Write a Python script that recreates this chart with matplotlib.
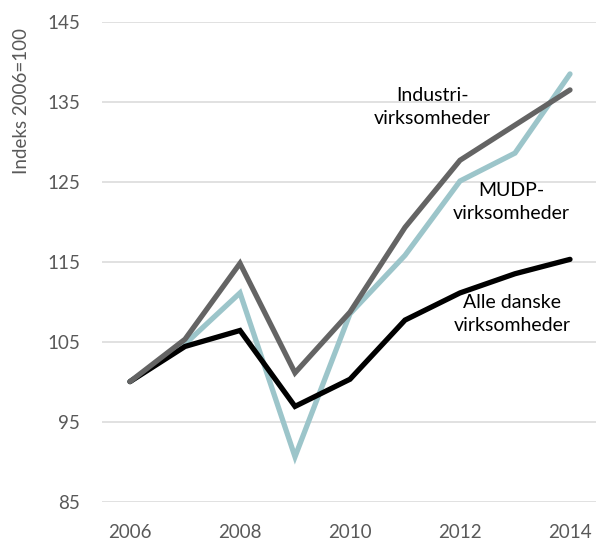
import matplotlib.pyplot as plt

years = [2006, 2007, 2008, 2009, 2010, 2011, 2012, 2013, 2014]
mudp = [100, 104.7, 111.1, 90.6, 108.5, 115.8, 125.1, 128.6, 138.5]
alle = [100, 104.4, 106.4, 96.9, 100.3, 107.7, 111.1, 113.5, 115.3]
industri = [100, 105.3, 114.8, 101.1, 108.7, 119.3, 127.7, 132.1, 136.5]

y_ticks = [85, 95, 105, 115, 125, 135, 145]
x_ticks = [2006, 2008, 2010, 2012, 2014]

plt.rcParams['font.family'] = ['Lato', 'DejaVu Sans']

fig = plt.figure(figsize=(5.96, 5.40), dpi=100)
fig.set_facecolor('white')
ax = fig.add_axes([102.5 / 596, 38.5 / 540, 495 / 596, 479.5 / 540])

lw = 3.8
ax.plot(years, mudp, color='#9cc5ca', lw=lw, solid_capstyle='round',
        solid_joinstyle='miter', zorder=3, clip_on=False)
ax.plot(years, alle, color='black', lw=lw, solid_capstyle='round',
        solid_joinstyle='miter', zorder=4, clip_on=False)
ax.plot(years, industri, color='#646464', lw=lw, solid_capstyle='round',
        solid_joinstyle='miter', zorder=5, clip_on=False)

ax.set_xlim(2005.5, 2014.5)
ax.set_ylim(85, 145)
ax.set_yticks(y_ticks)
ax.set_xticks(x_ticks)
ax.yaxis.grid(True, color='#d9d9d9', lw=1.1)
ax.set_axisbelow(True)
for s in ax.spines.values():
    s.set_visible(False)
ax.tick_params(length=0, labelsize=13.5, labelcolor='#595959')
ax.tick_params(axis='y', pad=16)
ax.tick_params(axis='x', pad=16)

ax.set_ylabel('Indeks 2006=100', fontsize=13.5, color='#595959')
ax.yaxis.set_label_coords(-0.147, 0.835)

# labels for the series
ax.text(2011.5, 134.4, 'Industri-\nvirksomheder', ha='center', va='center',
        fontsize=14, linespacing=1.45)
ax.text(2012.93, 122.5, 'MUDP-\nvirksomheder', ha='center', va='center',
        fontsize=14, linespacing=1.45)
ax.text(2012.95, 108.5, 'Alle danske\nvirksomheder', ha='center', va='center',
        fontsize=14, linespacing=1.45)

fig.savefig('out.png', dpi=100)
